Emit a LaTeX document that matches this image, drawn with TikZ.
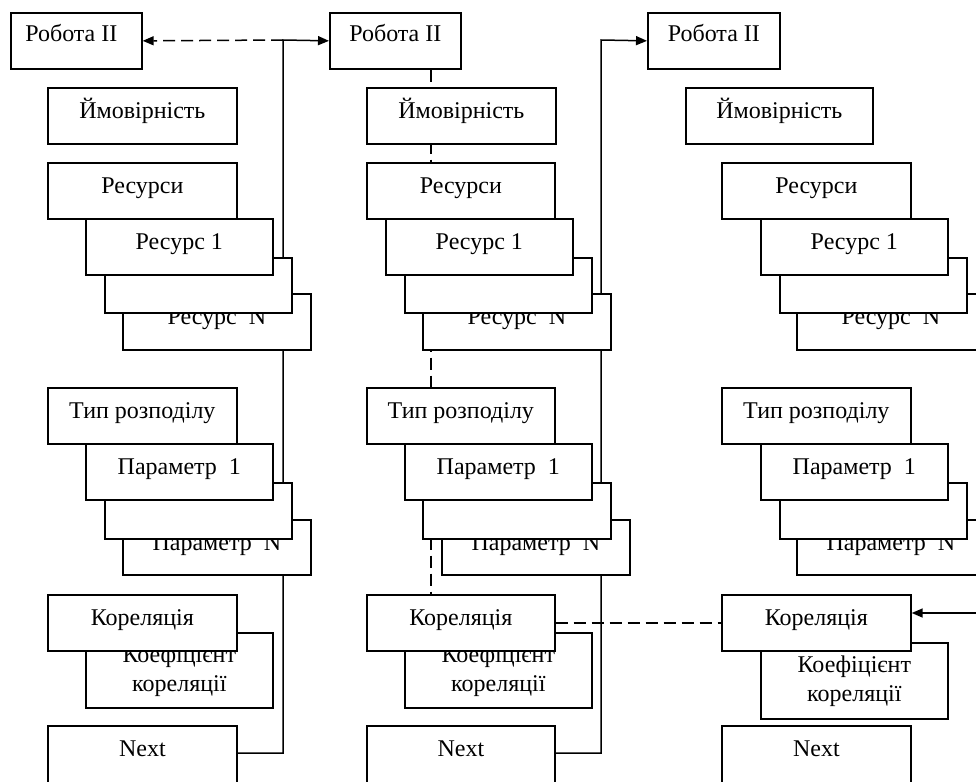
\documentclass[tikz,border=0pt]{standalone}
\usepackage{fontspec}
\setmainfont{Liberation Serif}
\usetikzlibrary{arrows.meta,backgrounds}
\tikzset{
  box/.style={draw, fill=white, line width=1.7pt, inner sep=0pt, anchor=north west},
  txt/.style={anchor=base, inner sep=0pt, align=center, font=\fontsize{24}{29}\selectfont},
  conn/.style={line width=1.5pt},
  dsh/.style={line width=1.5pt, dash pattern=on 12pt off 6pt},
  arr/.style={-{Triangle[length=11pt,width=9pt]}}
}
\newcommand\bx[6]{%
  \node[box, minimum width=#4pt, minimum height=#5pt] (#1) at (#2,#3) {};
  \node[txt] (#1-t) at ([yshift=-31pt]#1.north) {#6};}
\newcommand\bxk[5]{%
  \node[box, minimum width=#4pt, minimum height=#5pt] (#1) at (#2,#3) {};
  \node[txt] (#1-t) at ([yshift=-59pt]#1.north) {Коефіцієнт\\кореляції};}
\newcommand\bxe[5]{%
  \node[box, minimum width=#4pt, minimum height=#5pt] (#1) at (#2,#3) {};}
\begin{document}
\begin{tikzpicture}[x=1pt, y=-1pt]
\useasboundingbox (0,0) rectangle (976,781);
\clip (0,0) rectangle (976,781);
% ---------- column 1
\node[box, minimum width=131pt, minimum height=56pt] (r1) at (10,12) {};
\node[txt] (r1-t) at ([xshift=-5pt, yshift=-30pt]r1.north) {Робота ІІ};
\bx{p1}{47}{87}{189}{56}{Ймовірність}
\bx{rn1}{122}{293}{188}{56}{Ресурс\ \ N}
\bxe{rb1}{104}{257}{187}{55}
\bx{ra1}{85}{218}{187}{56}{Ресурс 1}
\bx{rs1}{47}{162}{189}{56}{Ресурси}
\bx{pn1}{122}{519}{188}{55}{Параметр\ \ N}
\bxe{pb1}{104}{482}{187}{56}
\bx{pa1}{85}{443}{187}{56}{Параметр\ \ 1}
\bx{t1}{47}{387}{189}{56}{Тип розподілу}
\bxk{c1}{85}{632}{187}{75}
\bx{k1}{47}{594}{189}{56}{Кореляція}
\bx{n1}{47}{725}{189}{72}{Next}
% ---------- column 2
\node[box, minimum width=131pt, minimum height=56pt] (r2) at (329,12) {};
\node[txt] (r2-t) at ([yshift=-30pt]r2.north) {Робота ІІ};
\bx{p2}{366}{87}{189}{56}{Ймовірність}
\bx{rn2}{422}{293}{188}{56}{Ресурс\ \ N}
\bxe{rb2}{404}{257}{187}{55}
\bx{ra2}{385}{218}{187}{56}{Ресурс 1}
\bx{rs2}{366}{162}{188}{56}{Ресурси}
\bx{pn2}{441}{519}{188}{55}{Параметр\ \ N}
\bxe{pb2}{422}{482}{188}{56}
\bx{pa2}{404}{443}{187}{56}{Параметр\ \ 1}
\bx{t2}{366}{387}{188}{56}{Тип розподілу}
\bxk{c2}{404}{632}{187}{75}
\bx{k2}{366}{594}{188}{56}{Кореляція}
\bx{n2}{366}{725}{188}{72}{Next}
% ---------- column 3
\node[box, minimum width=132pt, minimum height=56pt] (r3) at (647,12) {};
\node[txt] (r3-t) at ([yshift=-30pt]r3.north) {Робота ІІ};
\bx{p3}{685}{87}{187}{56}{Ймовірність}
\bx{rn3}{796}{293}{188}{56}{Ресурс\ \ N}
\bxe{rb3}{779}{257}{187}{55}
\bx{ra3}{760}{218}{187}{56}{Ресурс 1}
\bx{rs3}{721}{162}{189}{56}{Ресурси}
\bx{pn3}{796}{519}{188}{55}{Параметр\ \ N}
\bxe{pb3}{779}{482}{187}{56}
\bx{pa3}{760}{443}{187}{56}{Параметр\ \ 1}
\bx{t3}{721}{387}{189}{56}{Тип розподілу}
\bxk{c3}{760}{642}{187}{76}
\bx{k3}{721}{594}{189}{56}{Кореляція}
\bx{n3}{721}{725}{189}{72}{Next}
% ---------- connectors
\coordinate (j1) at (283,40);
\coordinate (j2) at (601,40);
\coordinate (x431) at (431,0);
\coordinate (ext) at (995,613);
\begin{scope}[on background layer]
  \draw[conn, arr] ([yshift=-28pt]n1.north east) -| (j1) -- (r2.west);
  \draw[dsh, arr] (j1) -- (r1.east);
  \draw[conn, arr] ([yshift=-28pt]n2.north east) -| (j2) -- (r3.west);
  \draw[dsh] (r2.south -| x431) -- (k2.north -| x431);
  \draw[dsh] (k2.east) -- (k3.west);
  \draw[conn, arr] (ext) -- (ext -| k3.east);
\end{scope}
\end{tikzpicture}
\end{document}
